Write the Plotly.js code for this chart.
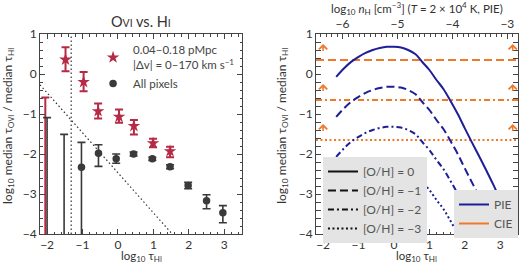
<!DOCTYPE html>
<html>
<head>
<meta charset="utf-8">
<script src="https://cdn.plot.ly/plotly-3.0.1.min.js"></script>
<style>html,body{margin:0;padding:0;background:#fff;}#chart{width:520px;height:265px;}</style>
</head>
<body>
<div id="chart"></div>
<script>
// ---------- Data ----------
// Left panel: red stars (0.04–0.18 pMpc, |Δv| = 0–170 km/s)
const redX  = [-2.05, -1.48, -0.97, -0.56, 0.03, 0.45, 0.99, 1.47];
const redY  = [-4.6, 0.36, -0.20, -0.93, -1.07, -1.30, -1.73, -1.93];
const redHi = [-0.59, 0.67, 0.05, -0.74, -0.89, -1.15, -1.62, -1.82];
const redLo = [-6.0, 0.07, -0.43, -1.11, -1.22, -1.51, -1.83, -2.08];
// Left panel: all pixels
const blackX  = [-2.0, -1.52, -1.03, -0.55, -0.05, 0.44, 0.97, 1.47, 1.98, 2.50, 2.96];
const blackY  = [-4.8, -4.6, -2.33, -1.98, -2.12, -2.00, -2.12, -2.32, -2.79, -3.17, -3.47];
const blackHi = [-1.09, -1.51, -1.71, -1.77, -2.00, -1.95, -2.08, -2.27, -2.71, -3.02, -3.29];
const blackLo = [-6.0, -6.0, -5.0, -2.31, -2.23, -2.05, -2.16, -2.37, -2.87, -3.37, -3.72];
// Left panel guide lines
const limitTauX = [-1.32, -1.32];
const limitTauY = [-4, 1];
const limitDiagX = [-2.2, 1.53];
const limitDiagY = [-0.27, -4.0];

// Right panel: PIE model curves for [O/H] = 0, -1, -2, -3
const pieTau = [-1.63, -1.4, -1.2, -1.0, -0.8, -0.6, -0.4, -0.2, 0.0, 0.2, 0.4, 0.6, 0.7, 0.8, 1.0, 1.2, 1.4, 1.6, 1.8, 2.0, 2.2, 2.4, 2.6, 2.8, 3.0, 3.2, 3.4];
const pieZ0  = [-0.07, 0.15, 0.31, 0.43, 0.53, 0.60, 0.65, 0.68, 0.68, 0.66, 0.60, 0.50, 0.41, 0.30, 0.10, -0.15, -0.38, -0.68, -1.00, -1.36, -1.71, -2.05, -2.40, -2.76, -3.15, -3.56, -3.98];
const pieZm1 = [-1.07, -0.85, -0.69, -0.57, -0.47, -0.40, -0.35, -0.32, -0.32, -0.34, -0.40, -0.50, -0.59, -0.70, -0.90, -1.15, -1.38, -1.68, -2.00, -2.36, -2.71, -3.05, -3.40, -3.76, -4.15, -4.56, -4.98];
const pieZm2 = [-2.07, -1.85, -1.69, -1.57, -1.47, -1.40, -1.35, -1.32, -1.32, -1.34, -1.40, -1.50, -1.59, -1.70, -1.90, -2.15, -2.38, -2.68, -3.00, -3.36, -3.71, -4.05, -4.40, -4.76, -5.15, -5.56, -5.98];
const pieZm3 = [-3.07, -2.85, -2.69, -2.57, -2.47, -2.40, -2.35, -2.32, -2.32, -2.34, -2.40, -2.50, -2.59, -2.70, -2.90, -3.15, -3.38, -3.68, -4.00, -4.36, -4.71, -5.05, -5.40, -5.76, -6.15, -6.56, -6.98];
// Right panel: CIE lower limits for [O/H] = 0, -1, -2, -3
const cieLevels = [1.35, 0.35, -0.65, -1.65];
const cieArrowX = [-2.0, 3.35];
const cieArrowLen = 0.4;

const metalLabels = ['[O/H] = 0', '[O/H] = −1', '[O/H] = −2', '[O/H] = −3'];
const dashes = ['solid', '8px,4px', '6px,3px,2px,3px', '2px,2.5px'];
const pieSeries = [pieZ0, pieZm1, pieZm2, pieZm3];

// Axis ranges
const xRange = [-2.2, 3.5];
const yRange = [-4, 1];
const nHRange = [-6.484, -2.806];

// ---------- Styling ----------
const FONT = 'Lato, "Open Sans", sans-serif';
const TXT = '#333';
const RED = '#b52b45';
const BLK = '#3a3a3a';
const BLUE = '#1e1e98';
const ORANGE = '#f07a2a';

const diff = (a, b) => a.map((v, i) => v - b[i]);

const traces = [];
// guide lines (left)
traces.push({x: limitTauX, y: limitTauY, xaxis: 'x', yaxis: 'y', mode: 'lines',
  line: {color: '#333', width: 1.2, dash: '1.5px,2.5px'}, showlegend: false, hoverinfo: 'skip'});
traces.push({x: limitDiagX, y: limitDiagY, xaxis: 'x', yaxis: 'y', mode: 'lines',
  line: {color: '#333', width: 1.2, dash: '1.5px,2.5px'}, showlegend: false, hoverinfo: 'skip'});
// red stars
traces.push({x: redX, y: redY, xaxis: 'x', yaxis: 'y', mode: 'markers', type: 'scatter',
  name: '0.04–0.18 pMpc<br>|Δv| = 0–170 km s<sup>−1</sup>', legend: 'legend',
  marker: {symbol: 'star', size: 9.5, color: RED, line: {width: 0}},
  error_y: {type: 'data', symmetric: false, array: diff(redHi, redY), arrayminus: diff(redY, redLo),
            color: RED, thickness: 2, width: 4}});
// black points
traces.push({x: blackX, y: blackY, xaxis: 'x', yaxis: 'y', mode: 'markers', type: 'scatter',
  name: 'All pixels', legend: 'legend',
  marker: {symbol: 'circle', size: 7.5, color: BLK, line: {width: 0}},
  error_y: {type: 'data', symmetric: false, array: diff(blackHi, blackY), arrayminus: diff(blackY, blackLo),
            color: BLK, thickness: 1.6, width: 4}});

// CIE horizontal lines (right)
cieLevels.forEach((lv, i) => {
  traces.push({x: xRange, y: [lv, lv], xaxis: 'x2', yaxis: 'y2', mode: 'lines',
    line: {color: ORANGE, width: 2, dash: dashes[i]}, showlegend: false, hoverinfo: 'skip'});
});
// PIE curves
pieSeries.forEach((ys, i) => {
  traces.push({x: pieTau, y: ys, xaxis: 'x2', yaxis: 'y2', mode: 'lines',
    line: {color: BLUE, width: 2, dash: dashes[i], shape: 'spline'}, showlegend: false, hoverinfo: 'skip'});
});
// invisible trace on top nH axis
traces.push({x: nHRange, y: [null, null], xaxis: 'x3', yaxis: 'y2', mode: 'lines', showlegend: false, hoverinfo: 'skip'});

// legend 2: metallicity line styles
metalLabels.forEach((lab, i) => {
  traces.push({x: [null], y: [null], xaxis: 'x2', yaxis: 'y2', mode: 'lines', name: lab, legend: 'legend2',
    line: {color: '#111', width: 2, dash: dashes[i]}});
});
// legend 3: PIE / CIE
traces.push({x: [null], y: [null], xaxis: 'x2', yaxis: 'y2', mode: 'lines', name: 'PIE', legend: 'legend3',
  line: {color: BLUE, width: 2}});
traces.push({x: [null], y: [null], xaxis: 'x2', yaxis: 'y2', mode: 'lines', name: 'CIE', legend: 'legend3',
  line: {color: ORANGE, width: 2}});

const tickFont = {family: FONT, size: 12, color: TXT};
function axis(extra) {
  return Object.assign({
    ticks: 'inside', ticklen: 5, tickwidth: 1, tickcolor: '#444',
    showline: true, linecolor: '#444', linewidth: 1, mirror: 'allticks',
    showgrid: false, zeroline: false, dtick: 1, tick0: 0,
    minor: {ticks: 'inside', ticklen: 2.5, dtick: 0.2, tick0: 0, tickcolor: '#444', showgrid: false},
    tickfont: tickFont, fixedrange: true
  }, extra);
}

const annotations = [];
cieLevels.forEach(lv => {
  if (lv + cieArrowLen > yRange[1] || lv < yRange[0]) return;
  cieArrowX.forEach(ax => {
    annotations.push({xref: 'x2', yref: 'y2', axref: 'x2', ayref: 'y2',
      x: ax, y: lv + cieArrowLen, ax: ax, ay: lv, text: ' ', showarrow: true,
      arrowhead: 4, arrowsize: 1, arrowwidth: 1.6, arrowcolor: ORANGE, standoff: 0, startstandoff: 0});
  });
});
const sm = (t, s) => `<span style="font-size:${s}px">${t}</span>`;
annotations.push({xref: 'x domain', yref: 'paper', x: 0.5, y: 1, yanchor: 'bottom', yshift: 2, showarrow: false,
  text: 'O' + sm('VI', 10.5) + ' vs. H' + sm('I', 10.5), font: {family: FONT, size: 14.5, color: TXT}});
annotations.push({xref: 'x2 domain', yref: 'paper', x: 0.5, y: 1, yanchor: 'middle', yshift: 25.5, showarrow: false,
  text: 'log<sub>10</sub> <i>n</i><sub>H</sub> [cm<sup>−3</sup>] (<i>T</i> = 2 × 10<sup>4</sup> K, PIE)',
  font: {family: FONT, size: 11.5, color: TXT}});
const xTitle = 'log<sub>10</sub> τ<sub>H' + sm('I', 7) + '</sub>';
['x domain', 'x2 domain'].forEach(ref => {
  annotations.push({xref: ref, yref: 'paper', x: 0.5, y: 0, yanchor: 'middle', yshift: -22, showarrow: false,
    text: xTitle, font: {family: FONT, size: 11.5, color: TXT}});
});
const yTitle = 'log<sub>10</sub> median τ<sub>O' + sm('VI', 7) + '</sub> / median τ<sub>H' + sm('I', 7) + '</sub>';
[-0.067, 0.506].forEach(xp => {
  annotations.push({xref: 'paper', yref: 'paper', x: xp, y: 0.54, textangle: -90, showarrow: false,
    xanchor: 'center', yanchor: 'middle', text: yTitle, font: {family: FONT, size: 12, color: TXT}});
});

const layout = {
  width: 520, height: 265,
  margin: {l: 40, r: 2, t: 34, b: 31, pad: 0},
  paper_bgcolor: '#fff', plot_bgcolor: '#fff',
  font: {family: FONT, color: TXT},
  xaxis: axis({domain: [0, 0.4226], range: xRange, anchor: 'y'}),
  yaxis: axis({domain: [0, 1], range: yRange, anchor: 'x'}),
  xaxis2: axis({domain: [0.5774, 1], range: xRange, anchor: 'y2', mirror: true}),
  yaxis2: axis({domain: [0, 1], range: yRange, anchor: 'x2'}),
  xaxis3: axis({overlaying: 'x2', side: 'top', anchor: 'y2', range: nHRange, mirror: false,
    minor: {ticks: 'inside', ticklen: 2.5, dtick: 0.1, tick0: 0, tickcolor: '#444', showgrid: false}}),
  showlegend: true,
  legend: {x: 0.111, y: 0.99, xanchor: 'left', yanchor: 'top', bgcolor: 'rgba(0,0,0,0)',
    font: {family: FONT, size: 11.5, color: '#444'}, itemwidth: 30, tracegroupgap: 0},
  legend2: {x: 0.592, y: 0.385, xanchor: 'left', yanchor: 'top', bgcolor: '#e4e4e4',
    font: {family: FONT, size: 12, color: '#555'}, itemwidth: 30},
  legend3: {x: 1, y: 0.22, xanchor: 'right', yanchor: 'top', bgcolor: '#e4e4e4',
    font: {family: FONT, size: 12, color: '#555'}, itemwidth: 30},
  annotations: annotations
};

Plotly.newPlot('chart', traces, layout, {staticPlot: true, displayModeBar: false});
</script>
</body>
</html>
